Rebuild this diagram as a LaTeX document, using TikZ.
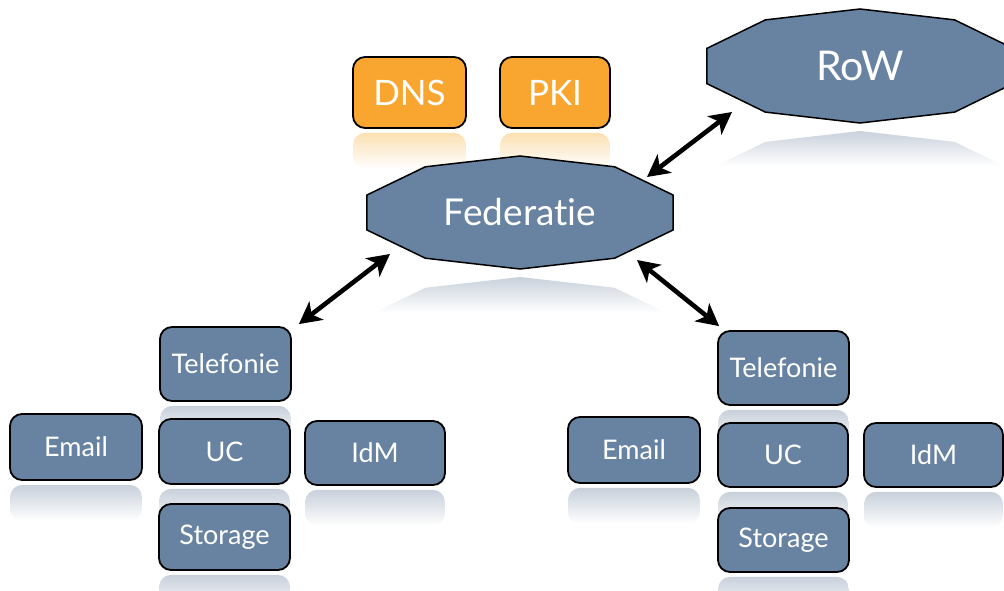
\documentclass[tikz,border=0pt]{standalone}
\usepackage{fontspec}
\setmainfont{Lato}[Ligatures={NoCommon}]
\usetikzlibrary{calc,arrows.meta,backgrounds}
\definecolor{boxblue}{RGB}{104,131,161}
\definecolor{svcorange}{RGB}{249,166,48}
\definecolor{reflblue}{RGB}{200,208,219}
\definecolor{reflorange}{RGB}{251,224,178}
\newcommand\decagonpath[3]{($(#1)+(18:#2 and #3)$) -- ($(#1)+(54:#2 and #3)$) -- ($(#1)+(90:#2 and #3)$) -- ($(#1)+(126:#2 and #3)$) -- ($(#1)+(162:#2 and #3)$) -- ($(#1)+(198:#2 and #3)$) -- ($(#1)+(234:#2 and #3)$) -- ($(#1)+(270:#2 and #3)$) -- ($(#1)+(306:#2 and #3)$) -- ($(#1)+(342:#2 and #3)$) -- cycle}
\newcommand\boxrefl[2]{\shade[top color=#2, bottom color=white, rounded corners=12pt] ($(#1.south west)+(1,4)$) rectangle ($(#1.south east)+(-1,40)$);}
\begin{document}
\begin{tikzpicture}[x=1pt,y=-1pt,
  svc/.style={draw=black, line width=1.8pt, rounded corners=12pt, fill=boxblue,
    text=white, inner sep=0pt, font=\fontsize{27}{30}\selectfont},
  topsvc/.style={svc, fill=svcorange, font=\fontsize{35}{38}\selectfont},
  decatext/.style={text=white, inner sep=0pt},
  decaline/.style={draw=black, line width=1.5pt, fill=boxblue},
  biarrow/.style={line width=4.6pt, {Stealth[length=22pt,width=23pt,inset=6pt]}-{Stealth[length=22pt,width=23pt,inset=6pt]}}]
\useasboundingbox (0,0) rectangle (1004,591);

% top services
\node[topsvc, minimum width=113pt, minimum height=71pt] (dns) at (409.5,92.5) {DNS};
\node[topsvc, minimum width=110pt, minimum height=71pt] (pki) at (555,92.5) {PKI};

% clouds
\node[decatext, font=\fontsize{37}{42}\selectfont] (fed) at (520,212.5) {Federatie};
\node[decatext, font=\fontsize{41}{46}\selectfont] (row) at (860,66) {RoW};

% left group
\node[svc, minimum width=131pt, minimum height=74pt] (telL) at (225.5,364) {Telefonie};
\node[svc, minimum width=132pt, minimum height=66pt] (emailL) at (76,447) {Email};
\node[svc, minimum width=131pt, minimum height=65pt] (ucL) at (224.5,451.5) {UC};
\node[svc, minimum width=140pt, minimum height=64pt] (idmL) at (375,453) {IdM};
\node[svc, minimum width=131pt, minimum height=66pt] (storL) at (224.5,537) {Storage};

% right group
\node[svc, minimum width=131pt, minimum height=74pt] (telR) at (783.5,368) {Telefonie};
\node[svc, minimum width=132pt, minimum height=66pt] (emailR) at (634,450) {Email};
\node[svc, minimum width=130pt, minimum height=64pt] (ucR) at (783,455) {UC};
\node[svc, minimum width=139pt, minimum height=64pt] (idmR) at (933.5,455) {IdM};
\node[svc, minimum width=131pt, minimum height=64pt] (storR) at (783.5,540) {Storage};

\begin{pgfonlayer}{background}
  % reflections of boxes
  \boxrefl{dns}{reflorange}
  \boxrefl{pki}{reflorange}
  \foreach \n in {telL,emailL,ucL,idmL,storL,telR,emailR,ucR,idmR,storR}{\boxrefl{\n}{reflblue}}
  % reflections of clouds
  \begin{scope}
    \clip \decagonpath{$(fed.center)+(0,121)$}{161pt}{56.5pt};
    \shade[top color=reflblue, bottom color=white] ($(fed.center)+(-170,64)$) rectangle ($(fed.center)+(170,100)$);
  \end{scope}
  \begin{scope}
    \clip \decagonpath{$(row.center)+(0,122)$}{161pt}{57pt};
    \shade[top color=reflblue, bottom color=white] ($(row.center)+(-170,64)$) rectangle ($(row.center)+(170,100)$);
  \end{scope}
  % clouds
  \path[decaline] \decagonpath{fed.center}{161pt}{56.5pt};
  \path[decaline] \decagonpath{row.center}{161pt}{57pt};
\end{pgfonlayer}

% connectors
\draw[biarrow] ([shift={(127,-35.5)}]fed.center) -- ([shift={(-128,46)}]row.center);
\draw[biarrow] ([shift={(-130,41.5)}]fed.center) -- ([shift={(7,-2)}]telL.north east);
\draw[biarrow] ([shift={(117,47.5)}]fed.center) -- ([shift={(2,-4)}]telR.north west);
\end{tikzpicture}
\end{document}
